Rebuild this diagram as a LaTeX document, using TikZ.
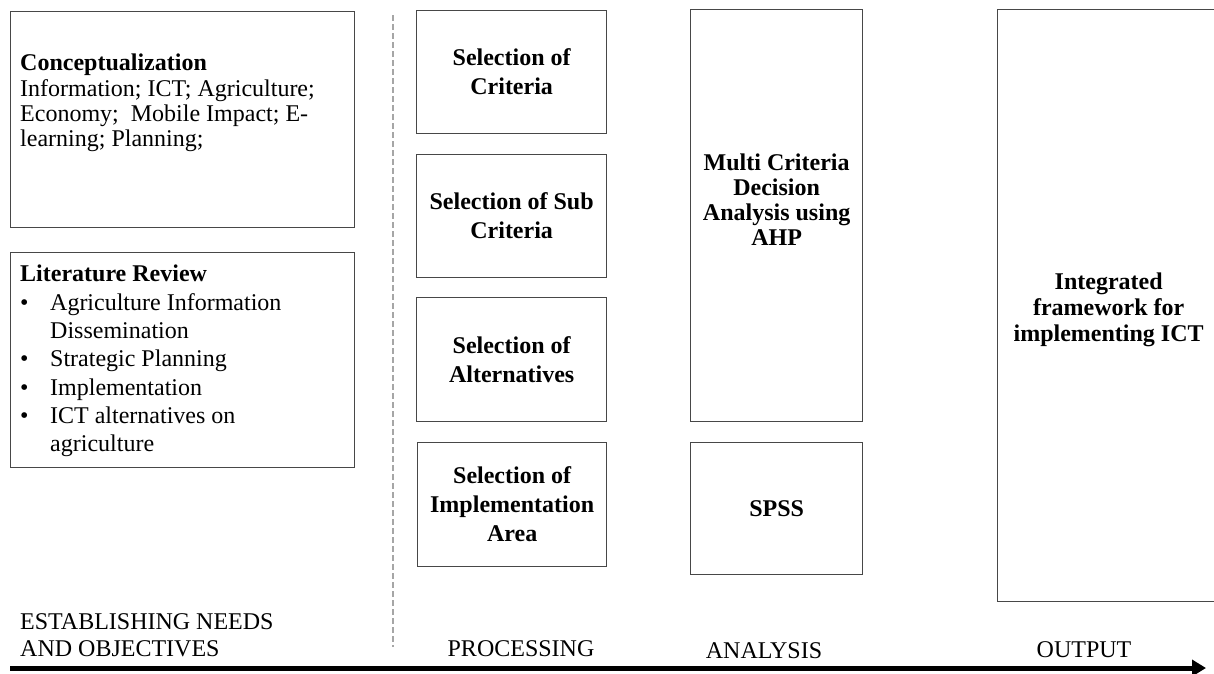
\documentclass[tikz,border=0pt]{standalone}
\usepackage{fontspec}
\setmainfont{Liberation Serif}
\usetikzlibrary{arrows.meta}
\begin{document}
\begin{tikzpicture}[x=1pt,y=-1pt,
  box/.style={draw=black!72,line width=1.3pt,anchor=north west,inner sep=0pt},
  boldtext/.style={font=\fontsize{24}{29}\selectfont\bfseries,align=center},
  plaintext/.style={font=\fontsize{24}{25.2}\selectfont,align=left,anchor=north west,inner sep=0pt},
  phase/.style={font=\fontsize{24}{27}\selectfont,inner sep=0pt}]
\useasboundingbox (0,0) rectangle (1214,673);
\node[box,minimum width=344,minimum height=216] (concept) at (10,11) {};
\node[plaintext] (concepttext) at (20,54) {\textbf{Conceptualization}\\Information; ICT; Agriculture;\\Economy;~ Mobile Impact; E-\\learning; Planning;};
\node[box,minimum width=344,minimum height=215] (litreview) at (10,252) {};
\node[plaintext,font=\fontsize{24}{28.3}\selectfont] (littext) at (20,265) {\textbf{Literature Review}\\
  \makebox[30pt][l]{\textbullet}Agriculture Information\\
  \hspace*{30pt}Dissemination\\
  \makebox[30pt][l]{\textbullet}Strategic Planning\\
  \makebox[30pt][l]{\textbullet}Implementation\\
  \makebox[30pt][l]{\textbullet}ICT alternatives on\\
  \hspace*{30pt}agriculture};
\coordinate (dashtop) at (393,15);
\coordinate (dashbot) at (393,647);
\draw[draw=black!35,line width=1.5pt,dash pattern=on 6pt off 3pt] (dashtop) -- (dashbot);
\node[box,boldtext,minimum width=190,minimum height=123] (criteria) at (416,10) {Selection of\\Criteria};
\node[box,boldtext,minimum width=190,minimum height=123] (subcriteria) at (416,154) {Selection of Sub\\Criteria};
\node[box,boldtext,minimum width=190,minimum height=124] (alternatives) at (416,297) {Selection of\\Alternatives};
\node[box,boldtext,minimum width=189,minimum height=124] (area) at (417,442) {Selection of\\Implementation\\Area};
\node[box,minimum width=172,minimum height=412] (mcda) at (690,9) {};
\node[boldtext,font=\fontsize{24}{25}\selectfont\bfseries] (mcdatext) at ([yshift=16pt]mcda.center) {Multi Criteria\\Decision\\Analysis using\\AHP};
\node[box,boldtext,minimum width=172,minimum height=132] (spss) at (690,442) {SPSS};
\node[box,minimum width=222,minimum height=592] (framework) at (997,9) {};
\node[boldtext,font=\fontsize{24}{26}\selectfont\bfseries] (frameworktext) at ([yshift=-4pt]framework.center) {Integrated\\framework for\\implementing ICT};
\node[phase,align=left,anchor=north west] (needs) at (20,613) {ESTABLISHING NEEDS\\AND OBJECTIVES};
\node[phase,anchor=base] (processing) at (521,656) {PROCESSING};
\node[phase,anchor=base] (analysis) at (764,658) {ANALYSIS};
\node[phase,anchor=base] (output) at (1084,657) {OUTPUT};
\coordinate (axisstart) at (10,668);
\coordinate (axisend) at (1206,668);
\draw[line width=5pt,-{Triangle[length=14pt,width=16pt]}] (axisstart) -- (axisend);
\end{tikzpicture}
\end{document}
